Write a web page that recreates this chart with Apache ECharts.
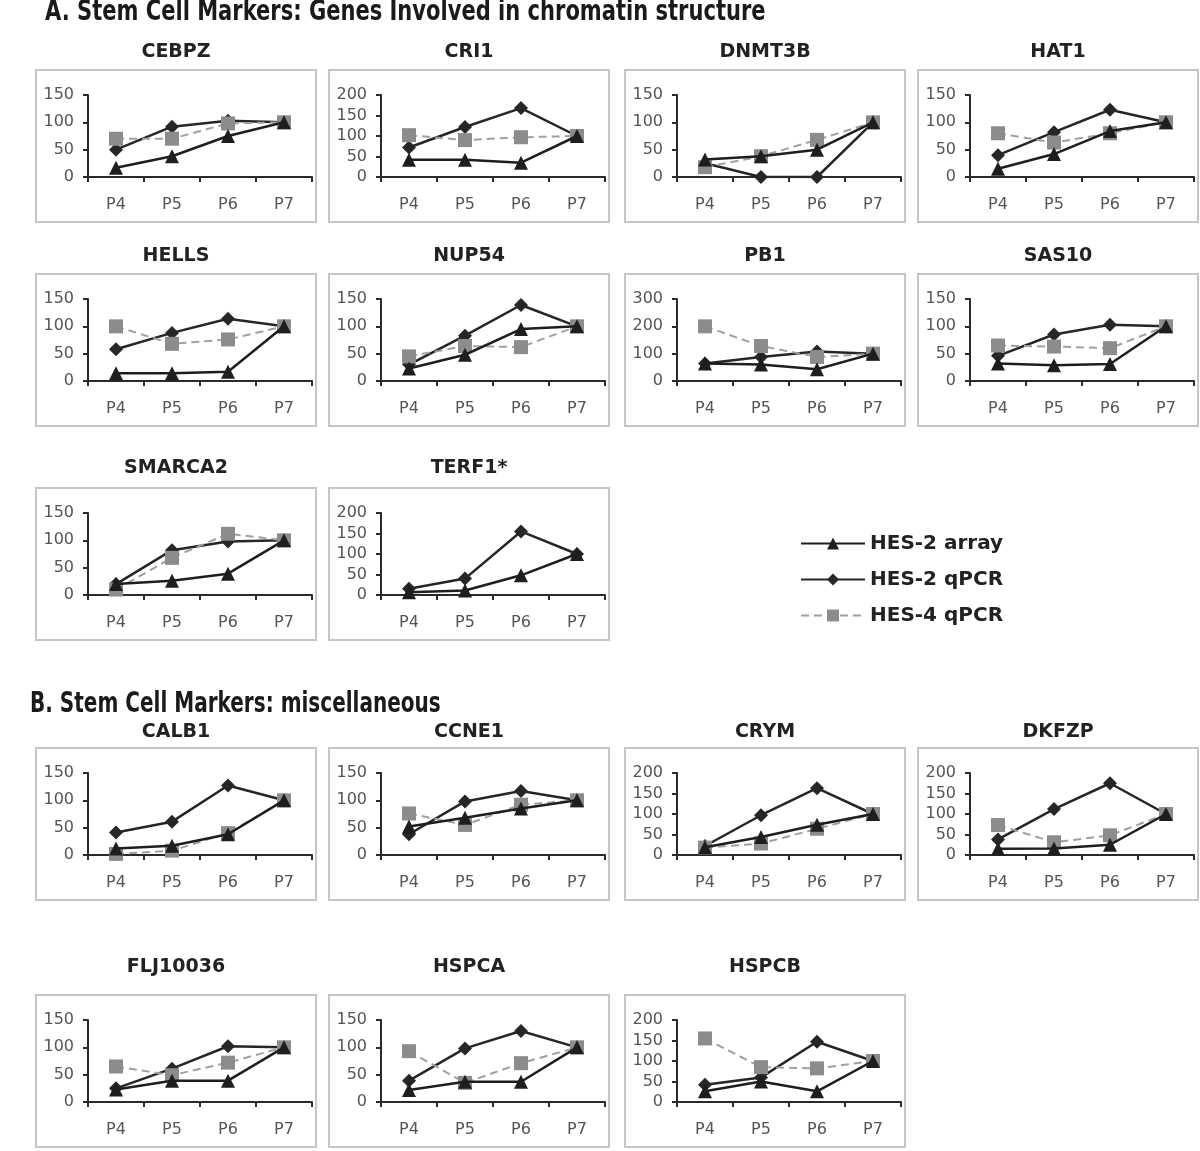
<!DOCTYPE html>
<html><head><meta charset="utf-8">
<script src="https://cdn.jsdelivr.net/npm/echarts@6/dist/echarts.min.js"></script>
<style>html,body{margin:0;padding:0;background:#fff}#c{width:1200px;height:1151px}</style>
</head><body><div id="c"></div>
<script>
const categories = ['P4','P5','P6','P7'];
const genes = ['CEBPZ','CRI1','DNMT3B','HAT1','HELLS','NUP54','PB1','SAS10','SMARCA2','TERF1*',
               'CALB1','CCNE1','CRYM','DKFZP','FLJ10036','HSPCA','HSPCB'];
const yMax  = [150,200,150,150,150,150,300,150,150,200,150,150,200,200,150,150,200];
const yStep = [50,50,50,50,50,50,100,50,50,50,50,50,50,50,50,50,50];
const seriesNames = ['HES-2 array','HES-2 qPCR','HES-4 qPCR'];
const sectionTitles = ['A. Stem Cell Markers: Genes Involved in chromatin structure','B. Stem Cell Markers: miscellaneous'];

const hes2Array = [
 [17,38,75,100],  // CEBPZ
 [42,42,35,100],  // CRI1
 [32,38,50,100],  // DNMT3B
 [15,42,84,100],  // HAT1
 [14,14,17,100],  // HELLS
 [23,48,95,100],  // NUP54
 [64,60,43,100],  // PB1
 [32,29,31,100],  // SAS10
 [20,26,39,100],  // SMARCA2
 [7,11,48,100],   // TERF1*
 [12,17,38,100],  // CALB1
 [52,68,85,100],  // CCNE1
 [19,44,74,100],  // CRYM
 [15,16,25,100],  // DKFZP
 [23,39,39,100],  // FLJ10036
 [22,37,37,100],  // HSPCA
 [26,50,26,100]   // HSPCB
];
const hes2Qpcr = [
 [50,92,103,100],
 [72,122,168,100],
 [25,0,0,100],
 [40,82,123,100],
 [58,88,114,100],
 [30,83,139,100],
 [64,88,108,100],
 [46,85,103,100],
 [20,82,98,100],
 [15,40,155,100],
 [41,61,127,100],
 [38,98,117,100],
 [22,97,163,100],
 [38,112,175,100],
 [25,61,102,100],
 [39,98,130,100],
 [42,60,147,100]
];
const hes4Qpcr = [
 [70,70,98,100],
 [102,90,97,100],
 [18,38,68,100],
 [80,63,80,100],
 [100,68,76,100],
 [45,64,62,100],
 [200,128,88,100],
 [65,63,60,100],
 [10,68,112,100],
 null,
 [2,8,40,100],
 [76,55,92,100],
 [18,28,64,100],
 [73,31,48,100],
 [65,49,72,100],
 [93,35,71,100],
 [155,85,82,100]
];

// layout
const boxX = [36, 329, 625, 918];
const boxTop = [70, 274, 488, 748, 995];
const titleOff = [18, 18, 20, 16, 28];
const panelRC = [[0,0],[0,1],[0,2],[0,3],[1,0],[1,1],[1,2],[1,3],[2,0],[2,1],
                 [3,0],[3,1],[3,2],[3,3],[4,0],[4,1],[4,2]];
const BOX_W = 280, BOX_H = 152;

const grids = [], xAxes = [], yAxes = [], series = [], graphics = [];
const axisCol = '#2a2a2a';
const lblFont = 'DejaVu Sans';

genes.forEach((g, i) => {
  const [r, c] = panelRC[i];
  const bx = boxX[c], by = boxTop[r];
  graphics.push({type:'rect', shape:{x:bx, y:by, width:BOX_W, height:BOX_H},
    style:{fill:'none', stroke:'#c6c6c6', lineWidth:2}, silent:true});
  graphics.push({type:'text', x:bx + BOX_W/2, y:by - titleOff[r],
    style:{text:g, align:'center', verticalAlign:'middle', fill:'#222',
      font:'bold 19px "DejaVu Sans", sans-serif'}});
  grids.push({left:bx+52, top:by+25, width:224, height:82});
  xAxes.push({type:'category', gridIndex:i, data:categories, boundaryGap:true,
    axisLine:{lineStyle:{color:axisCol, width:2}},
    axisTick:{show:true, length:5, lineStyle:{color:axisCol, width:2}},
    axisLabel:{color:'#555', fontFamily:lblFont, fontSize:16, margin:20},
    splitLine:{show:false}});
  yAxes.push({type:'value', gridIndex:i, min:0, max:yMax[i], interval:yStep[i],
    axisLine:{show:true, lineStyle:{color:axisCol, width:2}},
    axisTick:{show:true, length:5, lineStyle:{color:axisCol, width:2}},
    axisLabel:{color:'#555', fontFamily:lblFont, fontSize:16, margin:14},
    splitLine:{show:false}});
  series.push({name:seriesNames[1], type:'line', xAxisIndex:i, yAxisIndex:i, data:hes2Qpcr[i],
    symbol:'diamond', symbolSize:14, z:2,
    lineStyle:{color:'#262626', width:2.5}, itemStyle:{color:'#262626'}});
  if (hes4Qpcr[i]) series.push({name:seriesNames[2], type:'line', xAxisIndex:i, yAxisIndex:i, data:hes4Qpcr[i],
    symbol:'rect', symbolSize:14, z:3,
    lineStyle:{color:'#a0a0a0', width:2, type:[8,5]}, itemStyle:{color:'#8c8c8c'}});
  series.push({name:seriesNames[0], type:'line', xAxisIndex:i, yAxisIndex:i, data:hes2Array[i],
    symbol:'triangle', symbolSize:14, z:4,
    lineStyle:{color:'#1e1e1e', width:2.5}, itemStyle:{color:'#1e1e1e'}});
});

const secFont = 'bold 28px "Liberation Sans Narrow", "DejaVu Sans Condensed", sans-serif';
graphics.push({type:'text', x:45, y:13, scaleX:0.835, style:{text:sectionTitles[0], align:'left', verticalAlign:'middle',
  fill:'#1a1a1a', font:secFont}});
graphics.push({type:'text', x:30, y:705, scaleX:0.795, style:{text:sectionTitles[1], align:'left', verticalAlign:'middle',
  fill:'#1a1a1a', font:secFont}});

const chart = echarts.init(document.getElementById('c'), null, {renderer:'canvas'});
chart.setOption({
  animation:false,
  backgroundColor:'#fff',
  grid:grids, xAxis:xAxes, yAxis:yAxes, series:series,
  legend:{orient:'vertical', left:795, top:528, itemWidth:64, itemHeight:15, itemGap:15,
    data:seriesNames,
    textStyle:{fontFamily:'DejaVu Sans', fontWeight:'bold', fontSize:20, color:'#222', lineHeight:21}},
  graphic:graphics
});
</script></body></html>
